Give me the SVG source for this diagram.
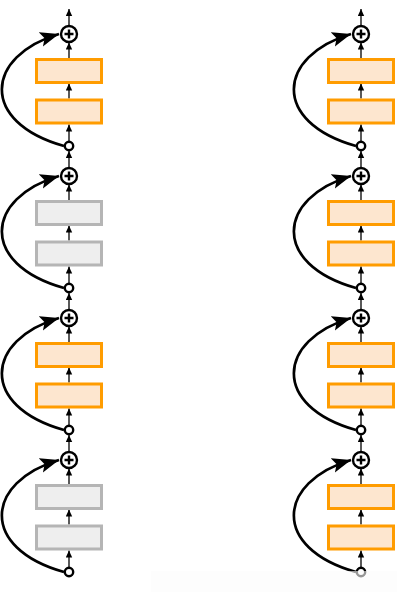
<svg xmlns="http://www.w3.org/2000/svg" width="401" height="600" viewBox="0 0 401 600">
<defs>
<style>
.plus{fill:#fff;stroke:#000;stroke-width:2.4}
.pl{stroke:#000;stroke-width:2.4;fill:none}
.dot{fill:#fff;stroke:#000;stroke-width:2.4}
.on{fill:#fde6cf;stroke:#ff9c00;stroke-width:3}
.off{fill:#eeeeee;stroke:#b5b5b5;stroke-width:3}
.thin{stroke:#000;stroke-width:1.3;fill:none;marker-end:url(#sa)}
.skip{stroke:#000;stroke-width:2.7;fill:none;marker-end:url(#la)}
</style>
<marker id="sa" markerUnits="userSpaceOnUse" markerWidth="9" markerHeight="8" refX="7" refY="3.2" orient="auto"><path d="M0,0 L7,3.2 L0,6.4 z" fill="#000"/></marker>
<marker id="la" markerUnits="userSpaceOnUse" markerWidth="22" markerHeight="18" refX="19" refY="7.5" orient="auto"><path d="M0,0 L19,7.5 L0,15 L4,7.5 z" fill="#000"/></marker>
<g id="blk-on">
<rect class="on" x="-32.5" y="59.5" width="65" height="23"/>
<rect class="on" x="-32.5" y="100" width="65" height="23"/>
</g>
<g id="blk-off">
<rect class="off" x="-32.5" y="59.5" width="65" height="23"/>
<rect class="off" x="-32.5" y="100" width="65" height="23"/>
</g>
<g id="conn">
<path class="skip" d="M-5,146 C-90,122 -84,56 -10,34"/>
<path class="thin" d="M0,25 V9"/>
<path class="thin" d="M0,58 V42.5"/>
<path class="thin" d="M0,98.5 V83.5"/>
<path class="thin" d="M0,141 V124.5"/>
</g>
<g id="plusnode">
<circle class="plus" cx="0" cy="34" r="8"/>
<path class="pl" d="M-4.5,34 H4.5 M0,29.5 V38.5"/>
</g>
</defs>
<rect width="401" height="600" fill="#fff"/>
<g id="connectors">
<use href="#conn" x="69" y="0"/>
<use href="#conn" x="69" y="142"/>
<use href="#conn" x="69" y="284"/>
<use href="#conn" x="69" y="426"/>
<use href="#conn" x="361" y="0"/>
<use href="#conn" x="361" y="142"/>
<use href="#conn" x="361" y="284"/>
<use href="#conn" x="361" y="426"/>
</g>
<g id="left-col">
<g id="L1-layers"><use href="#blk-on" x="69" y="0"/></g>
<g id="L1-add"><use href="#plusnode" x="69" y="0"/></g>
<g id="L1-in"><circle class="dot" cx="69" cy="146" r="4.2"/></g>
<g id="L2-layers"><use href="#blk-off" x="69" y="142"/></g>
<g id="L2-add"><use href="#plusnode" x="69" y="142"/></g>
<g id="L2-in"><circle class="dot" cx="69" cy="288" r="4.2"/></g>
<g id="L3-layers"><use href="#blk-on" x="69" y="284"/></g>
<g id="L3-add"><use href="#plusnode" x="69" y="284"/></g>
<g id="L3-in"><circle class="dot" cx="69" cy="430" r="4.2"/></g>
<g id="L4-layers"><use href="#blk-off" x="69" y="426"/></g>
<g id="L4-add"><use href="#plusnode" x="69" y="426"/></g>
<g id="L4-in"><circle class="dot" cx="69" cy="572" r="4.2"/></g>
</g>
<g id="right-col">
<g id="R1-layers"><use href="#blk-on" x="361" y="0"/></g>
<g id="R1-add"><use href="#plusnode" x="361" y="0"/></g>
<g id="R1-in"><circle class="dot" cx="361" cy="146" r="4.2"/></g>
<g id="R2-layers"><use href="#blk-on" x="361" y="142"/></g>
<g id="R2-add"><use href="#plusnode" x="361" y="142"/></g>
<g id="R2-in"><circle class="dot" cx="361" cy="288" r="4.2"/></g>
<g id="R3-layers"><use href="#blk-on" x="361" y="284"/></g>
<g id="R3-add"><use href="#plusnode" x="361" y="284"/></g>
<g id="R3-in"><circle class="dot" cx="361" cy="430" r="4.2"/></g>
<g id="R4-layers"><use href="#blk-on" x="361" y="426"/></g>
<g id="R4-add"><use href="#plusnode" x="361" y="426"/></g>
<g id="R4-in"><circle class="dot" cx="361" cy="572" r="4.2"/></g>
</g>
<rect x="151" y="571" width="246" height="21" fill="#fcfcfc" fill-opacity="0.6"/>
</svg>
